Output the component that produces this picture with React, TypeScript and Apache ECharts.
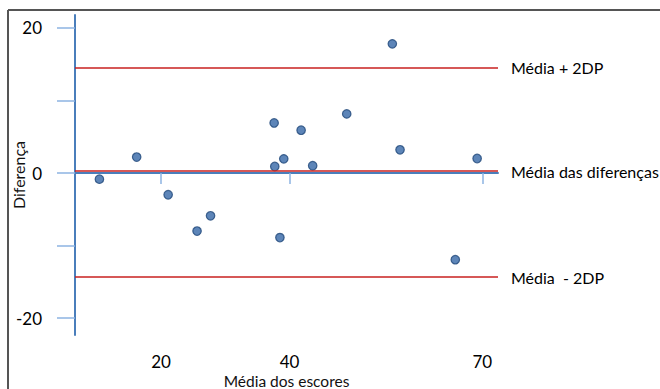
import React, { useEffect, useRef } from "react";
import * as echarts from "echarts";

// Média dos escores (x) and Diferença (y)
const meanScores = [10.4, 16.2, 21.1, 25.6, 27.7, 37.6, 37.7, 39.1, 38.5, 41.8, 43.6, 48.9, 56.0, 57.2, 65.8, 69.2];
const differences = [-0.85, 2.2, -3.0, -8.0, -5.9, 6.9, 0.9, 1.95, -8.9, 5.9, 1.0, 8.15, 17.8, 3.2, -11.95, 2.0];

const xTickValues = [20, 40, 70];
const yTickValues = [-20, -10, 0, 10, 20];
const yLabelValues = [-20, 0, 20];

const refNames = ["Média + 2DP", "Média das diferenças", "Média  - 2DP"];
const refValues = [14.55, 0.25, -14.35];

export default function App() {
  const ref = useRef<HTMLDivElement>(null);
  useEffect(() => {
    if (!ref.current) return;
    const chart = echarts.init(ref.current, undefined, { renderer: "svg" });
    const font = "Lato, 'Noto Sans', sans-serif";
    chart.setOption({
      animation: false,
      backgroundColor: "#ffffff",
      textStyle: { fontFamily: font },
      grid: { left: 75, right: 162, top: 15, bottom: 54, outerBoundsMode: "none", containLabel: false },
      xAxis: {
        type: "value",
        min: 6.6,
        max: 72.45,
        name: "Média dos escores",
        nameLocation: "middle",
        nameGap: 38,
        nameMoveOverlap: false,
        nameTextStyle: { fontFamily: font, fontSize: 15.5, color: "#111" },
        axisLine: { show: true, lineStyle: { color: "#4a7ebb", width: 2 } },
        axisTick: { show: true, length: 11, customValues: xTickValues, lineStyle: { color: "#8db3e2", width: 1.5 } },
        axisLabel: { customValues: xTickValues, margin: 18, fontFamily: font, fontSize: 17, color: "#000" },
        splitLine: { show: false },
      },
      yAxis: {
        type: "value",
        min: -22.33,
        max: 21.78,
        name: "Diferença",
        nameLocation: "middle",
        nameGap: 49,
        nameMoveOverlap: false,
        nameTextStyle: { fontFamily: font, fontSize: 16, color: "#111" },
        axisLine: { show: true, lineStyle: { color: "#4a7ebb", width: 2 } },
        axisTick: { show: true, length: 18, customValues: yTickValues, lineStyle: { color: "#8db3e2", width: 1.5 } },
        axisLabel: { customValues: yLabelValues, margin: 33, fontFamily: font, fontSize: 17, color: "#000" },
        splitLine: { show: false },
      },
      graphic: [
        { type: "line", z: 100, shape: { x1: 8, y1: 10, x2: 660, y2: 10 }, style: { stroke: "#555555", lineWidth: 2 } },
        { type: "line", z: 100, shape: { x1: 8, y1: 10, x2: 8, y2: 389 }, style: { stroke: "#555555", lineWidth: 2 } },
      ],
      series: [
        {
          type: "scatter",
          data: meanScores.map((x, i) => [x, differences[i]]),
          symbol: "circle",
          symbolSize: 8.5,
          itemStyle: { color: "#3466a6", borderColor: "#1f4779", borderWidth: 1.2 },
          markLine: {
            silent: true,
            symbol: ["none", "none"],
            lineStyle: { color: "#c8201f", width: 1.5, type: "solid" },
            label: {
              show: true,
              position: "end",
              distance: 13,
              fontFamily: font,
              fontSize: 16,
              color: "#000",
              padding: [0, 0, 6, 0],
              formatter: (p: any) => p.name,
            },
            data: refValues.map((v, i) => ({ yAxis: v, name: refNames[i] })),
          },
        },
      ],
    });
    return () => chart.dispose();
  }, []);
  return <div ref={ref} style={{ position: "fixed", left: 0, top: 0, width: 660, height: 389 }} />;
}
